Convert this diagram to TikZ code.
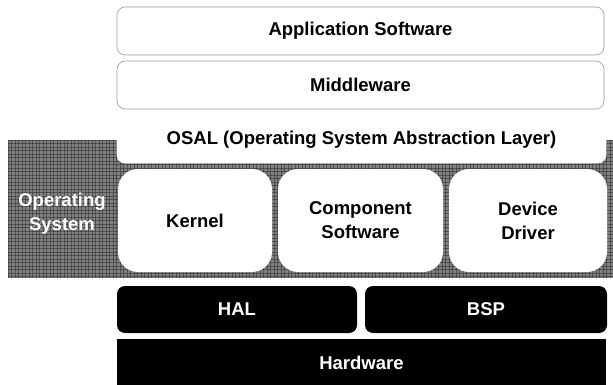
\documentclass[tikz,border=0pt]{standalone}
\usepackage{fontspec}
\setmainfont{Liberation Sans}
\begin{document}
\begin{tikzpicture}[x=1pt,y=-1pt,
  labeltext/.style={font=\bfseries\fontsize{18.5}{24}\selectfont, align=center},
  softbox/.style={labeltext, draw=black!40, line width=0.6pt, fill=white,
    rounded corners=8pt, inner sep=0pt},
  osbox/.style={labeltext, fill=white, rounded corners=20pt, inner sep=0pt,
    minimum height=103pt},
  darkbox/.style={labeltext, fill=black, text=white, rounded corners=8pt,
    inner sep=0pt, minimum height=47pt},
  hatch/.style={black!85, line width=0.8pt, opacity=0.5},
]
\useasboundingbox (0,0) rectangle (613,385);

% dithered operating-system band
\fill[black!50] (8,140) rectangle (613,278);
\begin{scope}
  \clip (8,140) rectangle (613,278);
  \foreach \gx in {8,11.5,...,613} \draw[hatch] (\gx,140) -- (\gx,278);
  \foreach \gy in {140,143.5,...,278} \draw[hatch] (8,\gy) -- (613,\gy);
\end{scope}
\node[labeltext, text=white] (os) at (62,214) {Operating\\System};

% upper software layers
\node[softbox, minimum width=487pt, minimum height=48pt] (app) at (360.5,31) {Application Software};
\node[softbox, minimum width=487pt, minimum height=48pt] (mid) at (360.5,85) {Middleware};
\node[softbox, draw=white, minimum width=489pt, minimum height=47pt] (osal) at (361.5,139.5)
  {OSAL (Operating System Abstraction Layer)};

% operating system components
\node[osbox, minimum width=154pt] (kernel) at (195,220.5) {Kernel};
\node[osbox, minimum width=165pt] (comp) at (360.5,220.5) {Component\\Software};
\node[osbox, minimum width=158pt] (drv) at (528,220.5) {Device\\Driver};

% hardware-dependent layers
\node[darkbox, minimum width=240pt] (hal) at (237,309.5) {HAL};
\node[darkbox, minimum width=242pt] (bsp) at (486,309.5) {BSP};
\node[labeltext, fill=black, text=white, inner sep=0pt,
  minimum width=489pt, minimum height=47pt] (hw) at (361.5,362.5) {Hardware};
\end{tikzpicture}
\end{document}
